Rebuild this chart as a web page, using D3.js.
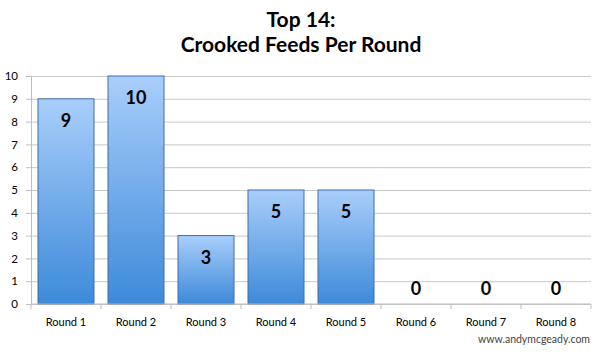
<!DOCTYPE html>
<html>
<head>
<meta charset="utf-8">
<script src="https://cdn.jsdelivr.net/npm/d3@7"></script>
<style>
  body { margin: 0; background: #fff; }
  svg { display: block; font-family: Lato, "Open Sans", sans-serif; }
</style>
</head>
<body>
<div id="chart"></div>
<script>
const rounds = ["Round 1", "Round 2", "Round 3", "Round 4", "Round 5", "Round 6", "Round 7", "Round 8"];
const feeds = [9, 10, 3, 5, 5, 0, 0, 0];
const yTicks = [0, 1, 2, 3, 4, 5, 6, 7, 8, 9, 10];
const titleLines = ["Top 14:", "Crooked Feeds Per Round"];

const width = 602, height = 354;
const margin = { top: 76, right: 11, bottom: 50, left: 31 };
const innerWidth = width - margin.left - margin.right;
const innerHeight = height - margin.top - margin.bottom;

const svg = d3.select("#chart").append("svg")
  .attr("width", width)
  .attr("height", height);

// bar gradient
const grad = svg.append("defs").append("linearGradient")
  .attr("id", "barGrad")
  .attr("x1", 0).attr("y1", 0).attr("x2", 0).attr("y2", 1);
grad.append("stop").attr("offset", "0%").attr("stop-color", "#a9cefb");
grad.append("stop").attr("offset", "100%").attr("stop-color", "#3d8ad9");

// title
svg.append("g").selectAll("text")
  .data(titleLines)
  .join("text")
  .attr("x", width / 2)
  .attr("y", (d, i) => 27 + i * 25)
  .attr("text-anchor", "middle")
  .attr("font-size", 21)
  .attr("font-weight", "bold")
  .attr("fill", "#000")
  .text(d => d);

const g = svg.append("g").attr("transform", `translate(${margin.left},${margin.top})`);

const x = d3.scaleBand().domain(rounds).range([0, innerWidth]).paddingInner(0.2).paddingOuter(0.1);
const y = d3.scaleLinear().domain([0, 10]).range([innerHeight, 0]);

// grid
g.append("g")
  .call(d3.axisLeft(y).tickValues(yTicks).tickSize(-innerWidth).tickFormat(""))
  .call(gg => gg.select(".domain").remove())
  .call(gg => gg.selectAll("line").attr("stroke", "#c8c8c8"));

// y axis
g.append("g")
  .call(d3.axisLeft(y).tickValues(yTicks).tickSize(5).tickPadding(8).tickSizeOuter(0))
  .call(gg => gg.select(".domain").attr("stroke", "#bdbdbd"))
  .call(gg => gg.selectAll("line").attr("stroke", "#bdbdbd"))
  .call(gg => gg.selectAll("text").attr("font-size", 11.5).attr("fill", "#000").attr("font-family", "Lato, sans-serif"));

// bars
g.append("g").selectAll("rect")
  .data(feeds)
  .join("rect")
  .attr("x", (d, i) => x(rounds[i]))
  .attr("y", d => y(d))
  .attr("width", x.bandwidth())
  .attr("height", d => innerHeight - y(d))
  .attr("fill", "url(#barGrad)")
  .attr("stroke", d => d > 0 ? "#3f6fa6" : "none")
  .attr("stroke-width", 1);

// x axis
const xAxisG = g.append("g").attr("transform", `translate(0,${innerHeight})`);
xAxisG.append("line")
  .attr("x1", 0).attr("x2", innerWidth)
  .attr("stroke", "#bdbdbd");
xAxisG.selectAll("line.tick")
  .data(d3.range(rounds.length + 1))
  .join("line")
  .attr("class", "tick")
  .attr("x1", i => i * innerWidth / rounds.length)
  .attr("x2", i => i * innerWidth / rounds.length)
  .attr("y1", 0).attr("y2", 5)
  .attr("stroke", "#bdbdbd");
xAxisG.selectAll("text")
  .data(rounds)
  .join("text")
  .attr("x", d => x(d) + x.bandwidth() / 2)
  .attr("y", 22)
  .attr("text-anchor", "middle")
  .attr("font-size", 11)
  .attr("fill", "#000")
  .text(d => d);

// value labels
g.append("g").selectAll("text")
  .data(feeds)
  .join("text")
  .attr("x", (d, i) => x(rounds[i]) + x.bandwidth() / 2)
  .attr("y", d => d > 0 ? y(d) + 28 : y(d) - 9)
  .attr("text-anchor", "middle")
  .attr("font-size", 18)
  .attr("font-weight", "bold")
  .attr("fill", "#000")
  .text(d => d);

// watermark
svg.append("text")
  .attr("x", 590)
  .attr("y", 343)
  .attr("text-anchor", "end")
  .attr("font-size", 10.5)
  .attr("fill", "#444")
  .text("www.andymcgeady.com");
</script>
</body>
</html>
